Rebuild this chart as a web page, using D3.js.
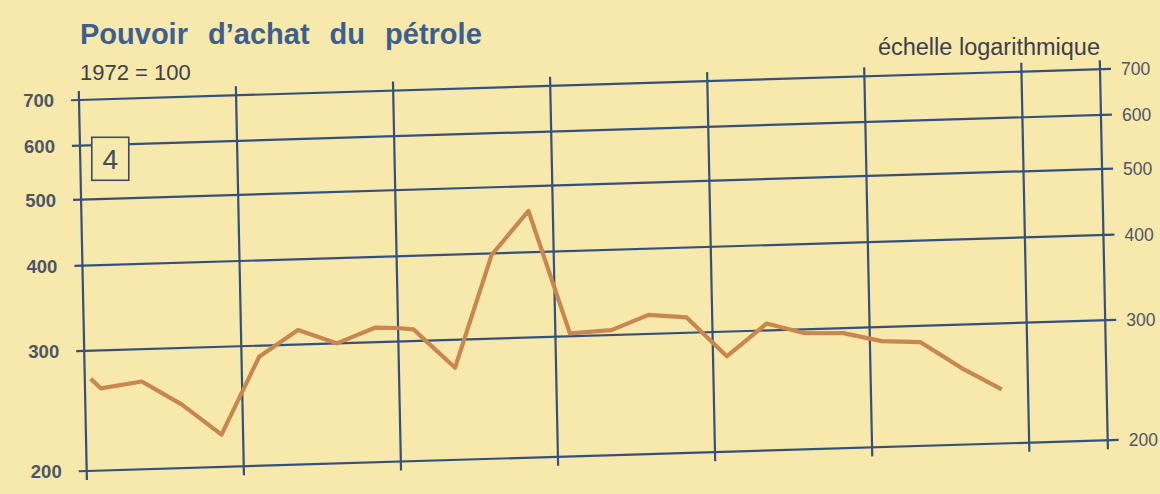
<!doctype html>
<html>
  <head>
    <title>Pouvoir d'achat du pétrole</title>
    <meta charset="utf-8">
    <script src="https://cdn.jsdelivr.net/npm/d3@7/dist/d3.min.js" charset="utf-8"></script>
    <style>
      html, body {
        margin: 0;
        padding: 0;
        background: #f7e8ac;
      }
      svg {
        display: block;
        font-family: "Liberation Sans", Arial, sans-serif;
      }
    </style>
  </head>
  <body>
    <div id="svgContainer"></div>
  </body>
  <script>
    // periods counted from the left axis, grid every 4 periods
    var periods = [0.15, 0.4, 1.45, 2.45, 3.45, 4.45, 5.45, 6.43, 7.41, 7.97, 8.39, 9.43, 10.42,
                   11.38, 12.37, 13.43, 14.38, 15.35, 16.35, 17.38, 18.35, 19.33, 20.3, 21.28, 22.32, 23.33];
    var values = [273, 264, 269, 248, 223, 289, 315, 300, 315, 314, 312, 273, 398,
                  460, 303, 305, 320, 316, 276, 307, 296, 295, 286, 284, 259, 240];
    var gridPeriods = [0, 4, 8, 12, 16, 20, 24, 26];
    var leftTicks = [200, 300, 400, 500, 600, 700];
    var rightTicks = [200, 300, 400, 500, 600, 700];

    var width = 1160,
      height = 494,
      W = 1021,
      H = 371;

    // the scanned page is a little skewed, so the plot frame gets the same skew
    var skew = { a: 1, b: -0.03007, c: 0.02074, d: 1, e: 79, f: 100 };

    function proj(u, v) {
      return [skew.a * u + skew.c * v + skew.e, skew.b * u + skew.d * v + skew.f];
    }

    var x = d3.scaleLinear().domain([0, 26]).range([0, W]);
    var y = d3.scaleLog().domain([200, 700]).range([H, 0]);

    var svg = d3.select("#svgContainer")
                .append("svg")
                .attr("width", width)
                .attr("height", height);

    svg.append("rect")
       .attr("width", width)
       .attr("height", height)
       .attr("fill", "#f7e8ac");

    var frame = svg.append("g")
                   .attr("transform", "matrix(" + [skew.a, skew.b, skew.c, skew.d, skew.e, skew.f].join(",") + ")");

    frame.selectAll("line.h")
      .data(leftTicks)
      .enter()
      .append("line")
      .attr("class", "h")
      .attr("x1", -8)
      .attr("x2", W + 11)
      .attr("y1", function(d) { return y(d); })
      .attr("y2", function(d) { return y(d); })
      .attr("stroke", "#34507c")
      .attr("stroke-width", 2.2);

    frame.selectAll("line.v")
      .data(gridPeriods)
      .enter()
      .append("line")
      .attr("class", "v")
      .attr("x1", function(d) { return x(d); })
      .attr("x2", function(d) { return x(d); })
      .attr("y1", -9)
      .attr("y2", H + 9)
      .attr("stroke", "#34507c")
      .attr("stroke-width", 2.2);

    var line = d3.line()
      .x(function(d) { return x(d.p); })
      .y(function(d) { return y(d.v); });

    var points = periods.map(function(p, i) { return { p: p, v: values[i] }; });

    frame.append("path")
      .datum(points)
      .attr("d", line)
      .attr("fill", "none")
      .attr("stroke", "#c8874f")
      .attr("stroke-width", 4.2)
      .attr("stroke-linejoin", "round")
      .attr("stroke-linecap", "butt");

    // axis labels stay upright
    svg.selectAll("text.left")
      .data(leftTicks)
      .enter()
      .append("text")
      .attr("class", "left")
      .attr("x", function(d) { return proj(-25, y(d))[0]; })
      .attr("y", function(d) { return proj(-25, y(d))[1]; })
      .attr("dy", "0.36em")
      .attr("text-anchor", "end")
      .attr("font-size", 18.5)
      .attr("font-weight", "bold")
      .attr("fill", "#4d5568")
      .text(function(d) { return d; });

    svg.selectAll("text.right")
      .data(rightTicks)
      .enter()
      .append("text")
      .attr("class", "right")
      .attr("x", function(d) { return proj(W + 21, y(d))[0]; })
      .attr("y", function(d) { return proj(W + 21, y(d))[1]; })
      .attr("dy", "0.36em")
      .attr("text-anchor", "start")
      .attr("font-size", 17.5)
      .attr("fill", "#4d5568")
      .text(function(d) { return d; });

    // boxed panel number
    var boxAt = proj(x(0) + 12, y(600) - 8);
    svg.append("rect")
       .attr("x", boxAt[0])
       .attr("y", boxAt[1])
       .attr("width", 37)
       .attr("height", 43)
       .attr("fill", "#f7e8ac")
       .attr("stroke", "#3e4a66")
       .attr("stroke-width", 1.6);

    svg.append("text")
       .attr("x", boxAt[0] + 18.5)
       .attr("y", boxAt[1] + 32)
       .attr("text-anchor", "middle")
       .attr("font-size", 28)
       .attr("fill", "#3e4a66")
       .text("4");

    svg.append("text")
       .attr("x", 80)
       .attr("y", 44)
       .attr("font-size", 29)
       .attr("font-weight", "bold")
       .attr("word-spacing", 12)
       .attr("fill", "#3c5f92")
       .text("Pouvoir d’achat du pétrole");

    svg.append("text")
       .attr("x", 80)
       .attr("y", 80)
       .attr("font-size", 22)
       .attr("fill", "#3b404c")
       .text("1972 = 100");

    svg.append("text")
       .attr("x", 1100)
       .attr("y", 55)
       .attr("text-anchor", "end")
       .attr("font-size", 23.5)
       .attr("fill", "#3b404c")
       .text("échelle logarithmique");
  </script>
</html>
